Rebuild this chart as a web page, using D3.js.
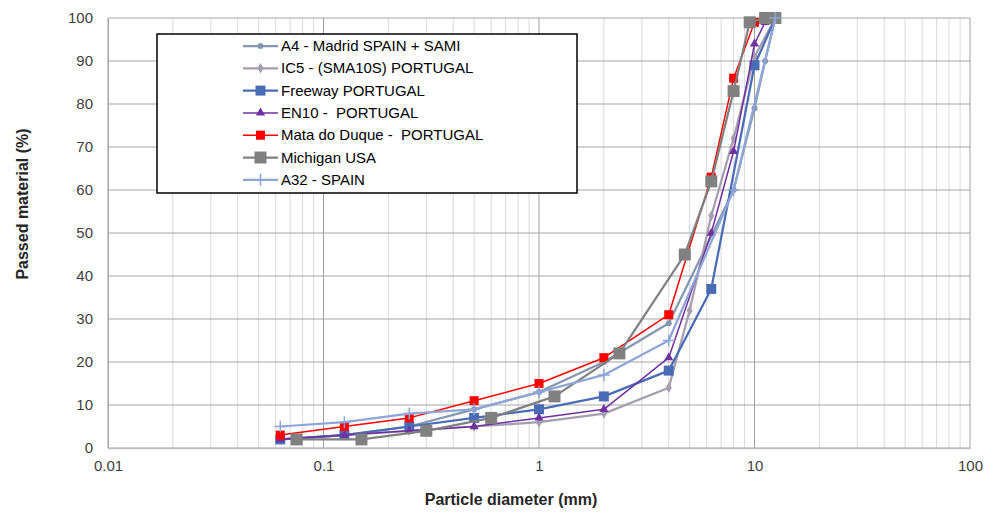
<!DOCTYPE html>
<html>
<head>
<meta charset="utf-8">
<script src="https://cdn.jsdelivr.net/npm/d3@7"></script>
<style>
  body { margin: 0; background: #ffffff; }
  text { font-family: "Liberation Sans", Arial, sans-serif; }
</style>
</head>
<body>
<script>
// sieve sizes (mm) and passed material (%) for each curve
const a4Size = [0.063, 0.125, 0.25, 0.5, 1, 2, 4, 8, 10, 11.2, 12.5];
const a4Pass = [2, 3, 5, 9, 13, 20, 29, 60, 79, 90, 100];

const ic5Size = [0.063, 0.125, 0.25, 0.5, 1, 2, 4, 5, 6.3, 8, 10, 12.5];
const ic5Pass = [2, 3, 4, 5, 6, 8, 14, 32, 54, 72, 91, 100];

const freewaySize = [0.063, 0.125, 0.25, 0.5, 1, 2, 4, 6.3, 10, 12.5];
const freewayPass = [2, 3, 5, 7, 9, 12, 18, 37, 89, 100];

const en10Size = [0.063, 0.125, 0.25, 0.5, 1, 2, 4, 6.3, 8, 10, 11.2, 12.5];
const en10Pass = [2, 3, 4, 5, 7, 9, 21, 50, 69, 94, 99, 100];

const mataSize = [0.063, 0.125, 0.25, 0.5, 1, 2, 4, 6.3, 8, 10, 12.5];
const mataPass = [3, 5, 7, 11, 15, 21, 31, 63, 86, 99, 100];

const michSize = [0.075, 0.15, 0.3, 0.6, 1.18, 2.36, 4.75, 6.3, 8, 9.5, 11.2, 12.5];
const michPass = [2, 2, 4, 7, 12, 22, 45, 62, 83, 99, 100, 100];

const a32Size = [0.063, 0.125, 0.25, 0.5, 1, 2, 4, 8, 12.5];
const a32Pass = [5, 6, 8, 9, 13, 17, 25, 60, 100];

const seriesNames = [
  "A4 - Madrid SPAIN + SAMI",
  "IC5 - (SMA10S) PORTUGAL",
  "Freeway PORTUGAL",
  "EN10 -  PORTUGAL",
  "Mata do Duque -  PORTUGAL",
  "Michigan USA",
  "A32 - SPAIN"
];

const xTicks = [0.01, 0.1, 1, 10, 100];
const yTicks = [0, 10, 20, 30, 40, 50, 60, 70, 80, 90, 100];

// styles per series (same order as names)
const styles = [
  { color: "#8497b0", width: 2.25, shape: "circle", size: 6 },
  { color: "#a49eae", width: 2.25, shape: "diamond", size: 8 },
  { color: "#4a6bb6", width: 2.25, shape: "square", size: 10 },
  { color: "#7030a0", width: 1.5, shape: "triangle", size: 9 },
  { color: "#ff0000", width: 1.5, shape: "square", size: 9 },
  { color: "#808080", width: 2.25, shape: "square", size: 12 },
  { color: "#8ea5d8", width: 2.25, shape: "plus", size: 12 }
];

const series = [
  [a4Size, a4Pass], [ic5Size, ic5Pass], [freewaySize, freewayPass],
  [en10Size, en10Pass], [mataSize, mataPass], [michSize, michPass], [a32Size, a32Pass]
].map((s, i) => ({
  name: seriesNames[i],
  style: styles[i],
  pts: s[0].map((d, j) => ({ d: d, v: s[1][j] }))
}));

const W = 984, H = 512;
const plot = { left: 108, right: 970, top: 18, bottom: 448 };

const svg = d3.select("body").append("svg")
  .attr("width", W)
  .attr("height", H);

const x = d3.scaleLog().domain([0.01, 100]).range([plot.left, plot.right]);
const y = d3.scaleLinear().domain([0, 100]).range([plot.bottom, plot.top]);

// minor vertical grid (2..9 in each decade)
const minor = [];
for (let e = -2; e < 2; e++) {
  for (let k = 2; k <= 9; k++) minor.push(k * Math.pow(10, e));
}
svg.append("g").selectAll("line")
  .data(minor)
  .join("line")
  .attr("x1", d => x(d)).attr("x2", d => x(d))
  .attr("y1", plot.top).attr("y2", plot.bottom)
  .attr("stroke", "#d9d9d9")
  .attr("stroke-width", 1);

// horizontal grid
svg.append("g").selectAll("line")
  .data(yTicks)
  .join("line")
  .attr("x1", plot.left).attr("x2", plot.right)
  .attr("y1", d => y(d)).attr("y2", d => y(d))
  .attr("stroke", "#a6a6a6")
  .attr("stroke-width", 1);

// major vertical grid
svg.append("g").selectAll("line")
  .data(xTicks)
  .join("line")
  .attr("x1", d => x(d)).attr("x2", d => x(d))
  .attr("y1", plot.top).attr("y2", plot.bottom)
  .attr("stroke", "#a0a0a0")
  .attr("stroke-width", 1);

// axes
const xAxis = svg.append("g")
  .attr("transform", `translate(0,${plot.bottom})`)
  .call(d3.axisBottom(x).tickValues(xTicks).tickSize(0).tickPadding(12)
    .tickFormat(d => String(d)));
xAxis.select(".domain").attr("stroke", "#bfbfbf").attr("stroke-width", 1.5);
xAxis.selectAll("text")
  .attr("font-size", 15)
  .attr("fill", "#404040")
  .attr("font-family", "Liberation Sans, Arial, sans-serif");

const yAxis = svg.append("g")
  .attr("transform", `translate(${plot.left},0)`)
  .call(d3.axisLeft(y).tickValues(yTicks).tickSize(0).tickPadding(15));
yAxis.select(".domain").attr("stroke", "#a6a6a6").attr("stroke-width", 1);
yAxis.selectAll("text")
  .attr("font-size", 15)
  .attr("fill", "#404040")
  .attr("font-family", "Liberation Sans, Arial, sans-serif");

// axis titles
svg.append("text")
  .attr("x", 511).attr("y", 505)
  .attr("text-anchor", "middle")
  .attr("font-size", 16)
  .attr("font-weight", "bold")
  .attr("fill", "#262626")
  .text("Particle diameter (mm)");

svg.append("text")
  .attr("transform", "translate(28,204) rotate(-90)")
  .attr("text-anchor", "middle")
  .attr("font-size", 16)
  .attr("font-weight", "bold")
  .attr("fill", "#262626")
  .text("Passed material (%)");

// marker helper
function marker(g, st, cx, cy) {
  const s = st.size;
  if (st.shape === "plus") {
    g.append("path")
      .attr("d", `M${cx - s / 2},${cy}H${cx + s / 2}M${cx},${cy - s / 2}V${cy + s / 2}`)
      .attr("stroke", st.color)
      .attr("stroke-width", 1.5)
      .attr("fill", "none");
    return;
  }
  const typ = { circle: d3.symbolCircle, diamond: d3.symbolDiamond,
    square: d3.symbolSquare, triangle: d3.symbolTriangle }[st.shape];
  const area = st.shape === "circle" ? Math.PI * s * s / 4 :
    st.shape === "diamond" ? s * s / 2 :
    st.shape === "triangle" ? s * s * 0.45 : s * s;
  g.append("path")
    .attr("d", d3.symbol().type(typ).size(area)())
    .attr("transform", `translate(${cx},${cy})`)
    .attr("fill", st.color);
}

const line = d3.line().x(p => x(p.d)).y(p => y(p.v));

// series
series.forEach(s => {
  const g = svg.append("g");
  g.append("path")
    .attr("d", line(s.pts))
    .attr("fill", "none")
    .attr("stroke", s.style.color)
    .attr("stroke-width", s.style.width)
    .attr("stroke-linejoin", "round");
  s.pts.forEach(p => marker(g, s.style, x(p.d), y(p.v)));
});

// legend
const lg = svg.append("g");
lg.append("rect")
  .attr("x", 157).attr("y", 34)
  .attr("width", 420).attr("height", 159)
  .attr("fill", "#ffffff")
  .attr("stroke", "#000000")
  .attr("stroke-width", 1.5);

series.forEach((s, i) => {
  const ly = 46 + i * 22.3;
  lg.append("line")
    .attr("x1", 243).attr("x2", 278)
    .attr("y1", ly).attr("y2", ly)
    .attr("stroke", s.style.color)
    .attr("stroke-width", s.style.width);
  marker(lg, s.style, 260.5, ly);
  lg.append("text")
    .attr("x", 281).attr("y", ly + 5)
    .attr("font-size", 15)
    .attr("fill", "#000000")
    .style("white-space", "pre")
    .text(s.name);
});
</script>
</body>
</html>
